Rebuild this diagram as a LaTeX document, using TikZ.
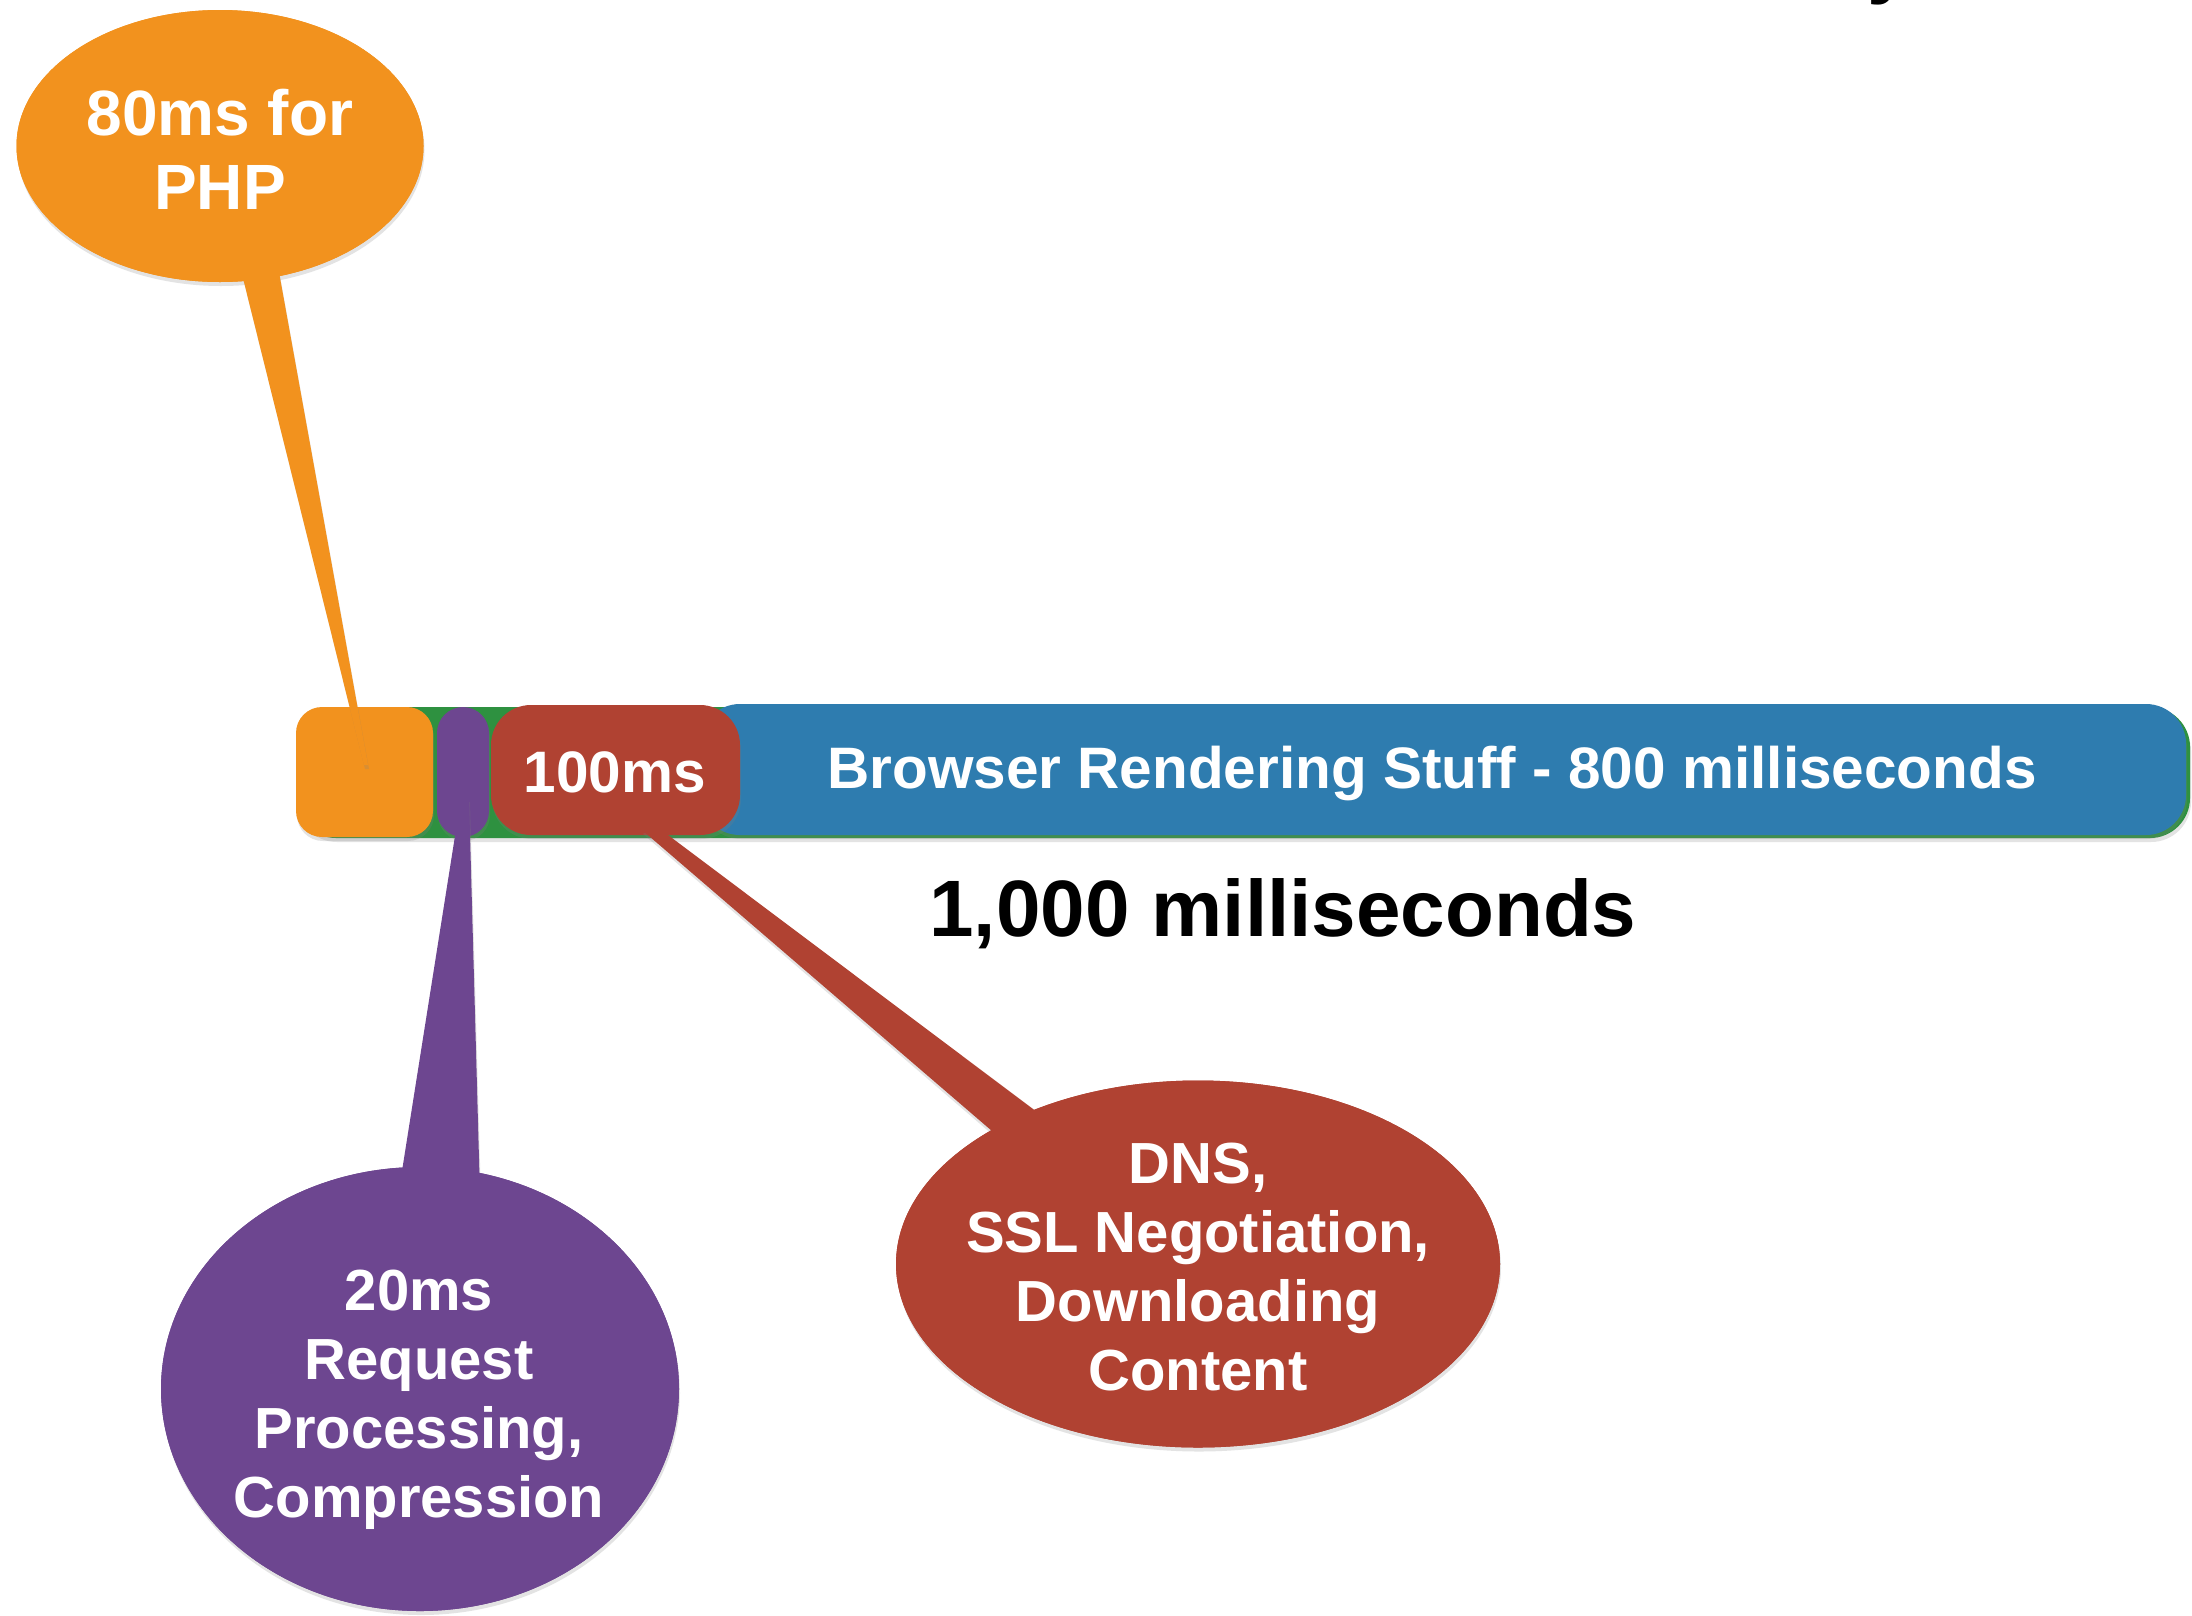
\documentclass[tikz,border=0pt]{standalone}
\usepackage{fontspec}
\setmainfont{Liberation Sans}
\usetikzlibrary{shapes.geometric,shadows}
\definecolor{cOrange}{HTML}{F2921E}
\definecolor{cPurple}{HTML}{6D4690}
\definecolor{cRed}{HTML}{B04232}
\definecolor{cBlue}{HTML}{2E7CAF}
\definecolor{cGreen}{HTML}{2E9140}
\tikzset{
  shad/.style={drop shadow={opacity=0.22,shadow xshift=1pt,shadow yshift=-4pt}},
  bubble/.style={ellipse,inner sep=0pt,text=white,align=center,shad},
  seg/.style={rectangle,inner sep=0pt,text=white,shad},
  tail/.style={shad},
  lbl/.style={text=white,inner sep=0pt,font=\fontsize{58.5}{69}\selectfont\bfseries}
}
\begin{document}
\begin{tikzpicture}[x=1pt,y=-1pt]
\clip (0,0) rectangle (2192,1615);
\fill[white] (0,0) rectangle (2192,1615);
% cut-off title fragment
\node[anchor=base west,inner sep=0pt,font=\fontsize{80}{90}\selectfont\bfseries] (ttl) at (1867,-12) {y};
% bar
\node[seg,fill=cGreen,minimum width=1894,minimum height=131,rounded corners=40] (bar) at (1243,772.5) {};
\node[seg,fill=cBlue,minimum width=1486,minimum height=131,rounded corners=40] (blue) at (1443,769.5) {};
\node[seg,fill=cOrange,minimum width=137,minimum height=130,rounded corners=26] (phpbar) at (364.5,772) {};
\node[seg,fill=cPurple,minimum width=52,minimum height=130,rounded corners=26] (reqbar) at (463,772) {};
\node[seg,fill=cRed,minimum width=249,minimum height=130,rounded corners=40] (netbar) at (615.5,770) {};
\node[lbl] (netlbl) at (615,772) {100ms};
\node[lbl] (blbl) at (1432,773) {Browser Rendering Stuff - 800 milliseconds};
\node[inner sep=0pt,font=\fontsize{80}{90}\selectfont\bfseries] (total) at (1283,914) {1,000 milliseconds};
% bubbles
\node[bubble,fill=cOrange,minimum width=407,minimum height=272] (php) at (220,146) {};
\node[bubble,fill=cPurple,minimum width=518,minimum height=444] (req) at (420,1389) {};
\node[bubble,fill=cRed,minimum width=604,minimum height=367] (net) at (1198,1264) {};
% tails
\coordinate (phptip) at (366,765);
\coordinate (reqtip) at (465,798);
\coordinate (nettip) at (648,826);
\fill[cOrange,tail] (236,250) -- ([xshift=-2pt]phptip) -- ([xshift=2pt]phptip) -- (275,250) -- cycle;
\fill[cPurple,tail] (399,1190) -- ([xshift=-4pt]reqtip) -- ([xshift=4pt]reqtip) -- (480,1195) -- cycle;
\fill[cRed,tail] (1035,1168) -- ([xshift=-6pt,yshift=-4pt]nettip) -- ([xshift=4pt,yshift=3pt]nettip) -- (1085,1148) -- cycle;
% redraw bubble bodies over the tail bases
\fill[cOrange] (php.center) ellipse [x radius=203.5,y radius=136];
\fill[cPurple] (req.center) ellipse [x radius=259,y radius=222];
\fill[cRed] (net.center) ellipse [x radius=302,y radius=183.5];
\node[text=white,align=center,inner sep=0pt,font=\fontsize{64}{74}\selectfont\bfseries] (phptxt) at (220,149) {80ms for\\PHP};
\node[text=white,align=center,inner sep=0pt,font=\fontsize{58}{69}\selectfont\bfseries] (reqtxt) at (419,1400) {20ms\\Request\\Processing,\\Compression};
\node[text=white,align=center,inner sep=0pt,font=\fontsize{58}{69}\selectfont\bfseries] (nettxt) at (1198,1267) {DNS,\\SSL Negotiation,\\Downloading\\Content};
\end{tikzpicture}
\end{document}
